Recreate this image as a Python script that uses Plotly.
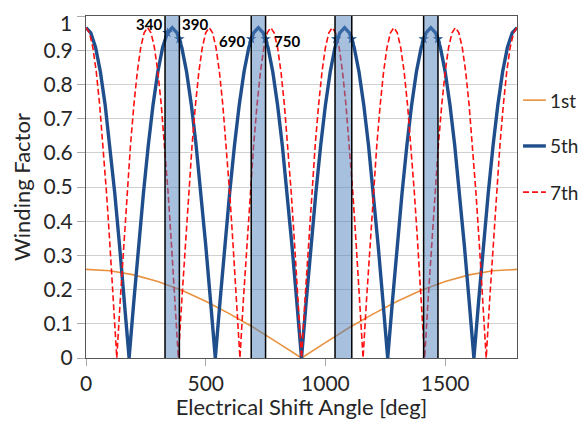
import plotly.graph_objects as go

# ---------------- data ----------------
x_1st = [0, 100, 200, 300, 400, 500, 600, 700, 800, 900,
         1000, 1100, 1200, 1300, 1400, 1500, 1600, 1700, 1800]
y_1st = [0.259, 0.255, 0.243, 0.224, 0.198, 0.166, 0.129, 0.089, 0.045, 0.0,
         0.045, 0.089, 0.129, 0.166, 0.198, 0.224, 0.243, 0.255, 0.259]

x_5th = [0, 20, 40, 60, 80, 100, 120, 140, 160,
         180, 200, 220, 240, 260, 280, 300, 320, 340,
         360, 380, 400, 420, 440, 460, 480, 500, 520,
         540, 560, 580, 600, 620, 640, 660, 680, 700,
         720, 740, 760, 780, 800, 820, 840, 860, 880,
         900, 920, 940, 960, 980, 1000, 1020, 1040, 1060,
         1080, 1100, 1120, 1140, 1160, 1180, 1200, 1220, 1240,
         1260, 1280, 1300, 1320, 1340, 1360, 1380, 1400, 1420,
         1440, 1460, 1480, 1500, 1520, 1540, 1560, 1580, 1600,
         1620, 1640, 1660, 1680, 1700, 1720, 1740, 1760, 1780,
         1800]
y_5th = [0.966, 0.951, 0.908, 0.837, 0.740, 0.621, 0.483, 0.330, 0.168,
         0.0, 0.168, 0.330, 0.483, 0.621, 0.740, 0.837, 0.908, 0.951,
         0.966, 0.951, 0.908, 0.837, 0.740, 0.621, 0.483, 0.330, 0.168,
         0.0, 0.168, 0.330, 0.483, 0.621, 0.740, 0.837, 0.908, 0.951,
         0.966, 0.951, 0.908, 0.837, 0.740, 0.621, 0.483, 0.330, 0.168,
         0.0, 0.168, 0.330, 0.483, 0.621, 0.740, 0.837, 0.908, 0.951,
         0.966, 0.951, 0.908, 0.837, 0.740, 0.621, 0.483, 0.330, 0.168,
         0.0, 0.168, 0.330, 0.483, 0.621, 0.740, 0.837, 0.908, 0.951,
         0.966, 0.951, 0.908, 0.837, 0.740, 0.621, 0.483, 0.330, 0.168,
         0.0, 0.168, 0.330, 0.483, 0.621, 0.740, 0.837, 0.908, 0.951,
         0.966]

x_7th = [0, 14.3, 28.6, 42.9, 57.1, 71.4, 85.7,
         100, 114.3, 128.6, 142.9, 157.1, 171.4, 185.7,
         200, 214.3, 228.6, 242.9, 257.1, 271.4, 285.7,
         300, 314.3, 328.6, 342.9, 357.1, 371.4, 385.7,
         400, 414.3, 428.6, 442.9, 457.1, 471.4, 485.7,
         500, 514.3, 528.6, 542.9, 557.1, 571.4, 585.7,
         600, 614.3, 628.6, 642.9, 657.1, 671.4, 685.7,
         700, 714.3, 728.6, 742.9, 757.1, 771.4, 785.7,
         800, 814.3, 828.6, 842.9, 857.1, 871.4, 885.7,
         900, 914.3, 928.6, 942.9, 957.1, 971.4, 985.7,
         1000, 1014.3, 1028.6, 1042.9, 1057.1, 1071.4, 1085.7,
         1100, 1114.3, 1128.6, 1142.9, 1157.1, 1171.4, 1185.7,
         1200, 1214.3, 1228.6, 1242.9, 1257.1, 1271.4, 1285.7,
         1300, 1314.3, 1328.6, 1342.9, 1357.1, 1371.4, 1385.7,
         1400, 1414.3, 1428.6, 1442.9, 1457.1, 1471.4, 1485.7,
         1500, 1514.3, 1528.6, 1542.9, 1557.1, 1571.4, 1585.7,
         1600, 1614.3, 1628.6, 1642.9, 1657.1, 1671.4, 1685.7,
         1700, 1714.3, 1728.6, 1742.9, 1757.1, 1771.4, 1785.7,
         1800]
y_7th = [0.966, 0.951, 0.908, 0.837, 0.740, 0.621, 0.483, 0.330, 0.168,
         0.0, 0.168, 0.330, 0.483, 0.621, 0.740, 0.837, 0.908, 0.951,
         0.966, 0.951, 0.908, 0.837, 0.740, 0.621, 0.483, 0.330, 0.168,
         0.0, 0.168, 0.330, 0.483, 0.621, 0.740, 0.837, 0.908, 0.951,
         0.966, 0.951, 0.908, 0.837, 0.740, 0.621, 0.483, 0.330, 0.168,
         0.0, 0.168, 0.330, 0.483, 0.621, 0.740, 0.837, 0.908, 0.951,
         0.966, 0.951, 0.908, 0.837, 0.740, 0.621, 0.483, 0.330, 0.168,
         0.0, 0.168, 0.330, 0.483, 0.621, 0.740, 0.837, 0.908, 0.951,
         0.966, 0.951, 0.908, 0.837, 0.740, 0.621, 0.483, 0.330, 0.168,
         0.0, 0.168, 0.330, 0.483, 0.621, 0.740, 0.837, 0.908, 0.951,
         0.966, 0.951, 0.908, 0.837, 0.740, 0.621, 0.483, 0.330, 0.168,
         0.0, 0.168, 0.330, 0.483, 0.621, 0.740, 0.837, 0.908, 0.951,
         0.966, 0.951, 0.908, 0.837, 0.740, 0.621, 0.483, 0.330, 0.168,
         0.0, 0.168, 0.330, 0.483, 0.621, 0.740, 0.837, 0.908, 0.951,
         0.966]

marker_x = [340, 390, 690, 750, 1045, 1110, 1410, 1470]
marker_y = [0.951, 0.933, 0.933, 0.933, 0.933, 0.933, 0.933, 0.933]

band_lo = [330, 690, 1040, 1410]
band_hi = [390, 750, 1110, 1470]

label_text = ["340", "390", "690", "750"]
label_x = [325, 392, 672, 775]
label_y = [0.977, 0.977, 0.927, 0.927]
label_anchor = ["right", "left", "right", "left"]

series_names = ["1st", "5th", "7th"]
legend_y = [0.754, 0.620, 0.485]

x_ticks = [0, 500, 1000, 1500]
y_ticks = [0, 0.1, 0.2, 0.3, 0.4, 0.5, 0.6, 0.7, 0.8, 0.9, 1]
y_tick_text = ["0", "0.1", "0.2", "0.3", "0.4", "0.5", "0.6", "0.7", "0.8", "0.9", "1"]

# ---------------- figure ----------------
FONT = "Lato, 'Open Sans', sans-serif"
C1, C5, C7 = "#E8923F", "#1F4E8C", "#FF1010"
TXT = "#262626"
styles = [dict(color=C1, width=1.6),
          dict(color=C5, width=3.4),
          dict(color=C7, width=1.6, dash="6px,3px")]

fig = go.Figure()
fig.add_trace(go.Scatter(x=x_1st, y=y_1st, mode="lines", name=series_names[0],
                         line=styles[0], showlegend=False))
fig.add_trace(go.Scatter(x=x_5th, y=y_5th, mode="lines", name=series_names[1],
                         line=styles[1], showlegend=False))
fig.add_trace(go.Scatter(x=x_7th, y=y_7th, mode="lines", name=series_names[2],
                         line=styles[2], showlegend=False))
fig.add_trace(go.Scatter(x=marker_x, y=marker_y, mode="markers", showlegend=False,
                         marker=dict(symbol="star", size=8, color=C5)))

for lo, hi in zip(band_lo, band_hi):
    fig.add_shape(type="rect", xref="x", yref="y", x0=lo, x1=hi, y0=0, y1=1,
                  fillcolor="rgba(79,129,189,0.5)", line=dict(width=0), layer="above")
    for xv in (lo, hi):
        fig.add_shape(type="line", xref="x", yref="y", x0=xv, x1=xv, y0=0, y1=1,
                      line=dict(color="black", width=1.5), layer="above")

for t, xv, yv, a in zip(label_text, label_x, label_y, label_anchor):
    fig.add_annotation(x=xv, y=yv, text="<b>" + t + "</b>", showarrow=False,
                       xanchor=a, yanchor="middle",
                       font=dict(family=FONT, size=15, color="black"))

# legend drawn at the right of the plot, like the reference
for name, ly, st in zip(series_names, legend_y, styles):
    fig.add_shape(type="line", xref="paper", yref="paper", x0=1.014, x1=1.067,
                  y0=ly, y1=ly, line=st)
    fig.add_annotation(xref="paper", yref="paper", x=1.072, y=ly, text=name,
                       showarrow=False, xanchor="left", yanchor="middle",
                       font=dict(family=FONT, size=19, color=TXT))

# the top tick label would stick out of the figure's top edge, so it is placed
# as a text just below that edge, beside the top tick
tick_text_shown = y_tick_text[:-1] + [""]
fig.add_annotation(xref="paper", yref="paper", x=0, y=1, text=y_tick_text[-1],
                   showarrow=False, xanchor="right", yanchor="top",
                   xshift=-12, yshift=8,
                   font=dict(family=FONT, size=21, color=TXT))

# page body has an 8px margin: figure sized/offset so the plot lands where the reference has it
fig.update_layout(
    width=571, height=412,
    margin=dict(l=78, r=62, t=8, b=62, autoexpand=False),
    paper_bgcolor="white", plot_bgcolor="white",
    font=dict(family=FONT, size=21, color=TXT),
    showlegend=False,
    xaxis=dict(range=[0, 1800], tickvals=x_ticks, showgrid=False,
               showline=True, mirror=True, linecolor="#555", linewidth=1,
               ticks="outside", ticklen=7, tickcolor="#aaa", zeroline=False,
               automargin=False, ticklabeloverflow="allow",
               tickfont=dict(family=FONT, size=21, color=TXT),
               title=dict(text="Electrical Shift Angle [deg]", standoff=4,
                          font=dict(family=FONT, size=22, color=TXT))),
    yaxis=dict(range=[0, 1], tickvals=y_ticks, ticktext=tick_text_shown,
               showgrid=True, gridcolor="#d0d0d0", gridwidth=1,
               showline=True, mirror=True, linecolor="#555", linewidth=1,
               ticks="outside", ticklen=8, tickcolor="#aaa", zeroline=False,
               automargin=False, ticklabeloverflow="allow",
               tickfont=dict(family=FONT, size=21, color=TXT),
               title=dict(text="Winding Factor", standoff=10,
                          font=dict(family=FONT, size=22, color=TXT))),
)

fig.write_html("out.html")
